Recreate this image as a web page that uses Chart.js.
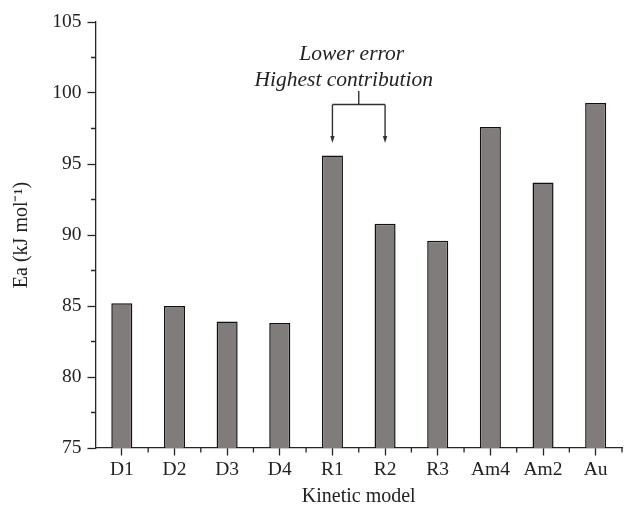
<!DOCTYPE html>
<html>
<head>
<meta charset="utf-8">
<script src="https://cdn.jsdelivr.net/npm/chart.js@4/dist/chart.umd.min.js"></script>
<style>
  html, body { margin: 0; padding: 0; background: #fff; }
  #wrap { width: 625px; height: 509px; }
</style>
</head>
<body>
<div id="wrap"><canvas id="c" width="625" height="509"></canvas></div>
<script>
// Activation energy per kinetic model
const models = ['D1', 'D2', 'D3', 'D4', 'R1', 'R2', 'R3', 'Am4', 'Am2', 'Au'];
const activationEnergy = [85.2, 85.0, 83.9, 83.8, 95.6, 90.8, 89.6, 97.6, 93.7, 99.3];
const yTicks = [75, 80, 85, 90, 95, 100, 105];
const noteLines = ['Lower error', 'Highest contribution'];
const noteTargets = ['R1', 'R2'];

const SERIF = '"Liberation Serif", "Times New Roman", serif';
const INK = '#262626';

// Minor ticks on both axes plus the bracket note pointing at two bars
const decorations = {
  id: 'decorations',
  afterDraw(chart) {
    const ctx = chart.ctx;
    const x = chart.scales.x;
    const y = chart.scales.y;
    const area = chart.chartArea;
    ctx.save();
    ctx.strokeStyle = INK;
    ctx.lineWidth = 1.3;

    // y minor ticks halfway between labelled values
    ctx.beginPath();
    for (let i = 0; i < yTicks.length - 1; i++) {
      const py = y.getPixelForValue((yTicks[i] + yTicks[i + 1]) / 2);
      ctx.moveTo(area.left - 4.5, py);
      ctx.lineTo(area.left, py);
    }
    // x minor ticks on category boundaries
    const step = x.getPixelForTick(1) - x.getPixelForTick(0);
    for (let i = 0; i < models.length; i++) {
      const px = x.getPixelForTick(i) + step / 2;
      ctx.moveTo(px, area.bottom);
      ctx.lineTo(px, area.bottom + 4.5);
    }
    ctx.stroke();

    // bracket with arrows
    const xa = x.getPixelForValue(models.indexOf(noteTargets[0]));
    const xb = x.getPixelForValue(models.indexOf(noteTargets[1]));
    const mid = (xa + xb) / 2;
    const stemTop = 91, barY = 104.5, tipY = 143;
    ctx.lineWidth = 1.4;
    ctx.strokeStyle = '#333';
    ctx.beginPath();
    ctx.moveTo(mid, stemTop);
    ctx.lineTo(mid, barY);
    ctx.moveTo(xa, barY);
    ctx.lineTo(xb, barY);
    ctx.moveTo(xa, barY);
    ctx.lineTo(xa, tipY - 5);
    ctx.moveTo(xb, barY);
    ctx.lineTo(xb, tipY - 5);
    ctx.stroke();
    ctx.fillStyle = '#333';
    [xa, xb].forEach(px => {
      ctx.beginPath();
      ctx.moveTo(px - 2.2, tipY - 7);
      ctx.lineTo(px + 2.2, tipY - 7);
      ctx.lineTo(px, tipY);
      ctx.closePath();
      ctx.fill();
    });

    // note text
    ctx.fillStyle = '#222';
    ctx.font = 'italic 21.5px ' + SERIF;
    ctx.textAlign = 'center';
    ctx.textBaseline = 'alphabetic';
    ctx.fillText(noteLines[0], mid - 7, 60);
    ctx.fillText(noteLines[1], mid - 15, 85.5);
    ctx.restore();
  }
};

new Chart(document.getElementById('c'), {
  type: 'bar',
  data: {
    labels: models,
    datasets: [{
      data: activationEnergy,
      backgroundColor: '#807c7b',
      borderColor: '#111',
      borderWidth: 1.5,
      barPercentage: 0.4,
      categoryPercentage: 1.0
    }]
  },
  options: {
    responsive: false,
    animation: false,
    devicePixelRatio: 1,
    layout: { padding: { top: 22, right: 3, left: 0, bottom: 0 } },
    plugins: {
      legend: { display: false },
      tooltip: { enabled: false }
    },
    scales: {
      x: {
        afterFit(scale) { scale.height = 61; },
        grid: {
          display: true,
          drawOnChartArea: false,
          drawTicks: true,
          offset: false,
          tickLength: 7.5,
          tickWidth: 1.3,
          tickColor: INK
        },
        border: { display: true, color: INK, width: 1.3 },
        ticks: {
          color: '#222',
          padding: 3,
          maxRotation: 0,
          font: { family: SERIF, size: 19.5 }
        },
        title: {
          display: true,
          text: 'Kinetic model',
          color: '#222',
          padding: { top: 0, bottom: 0 },
          font: { family: SERIF, size: 20 }
        }
      },
      y: {
        min: yTicks[0],
        max: yTicks[yTicks.length - 1],
        afterFit(scale) { scale.width = 95.5; },
        afterBuildTicks(scale) { scale.ticks = yTicks.map(v => ({ value: v })); },
        grid: {
          display: true,
          drawOnChartArea: false,
          drawTicks: true,
          tickLength: 8,
          tickWidth: 1.3,
          tickColor: INK
        },
        border: { display: true, color: INK, width: 1.3 },
        ticks: {
          color: '#222',
          padding: 6,
          font: { family: SERIF, size: 19.5 },
          callback: v => String(v)
        },
        title: {
          display: true,
          text: 'Ea (kJ mol\u207B\u00B9)',
          color: '#222',
          padding: { top: 9.5, bottom: 0 },
          font: { family: SERIF, size: 20 }
        }
      }
    }
  },
  plugins: [decorations]
});
</script>
</body>
</html>
